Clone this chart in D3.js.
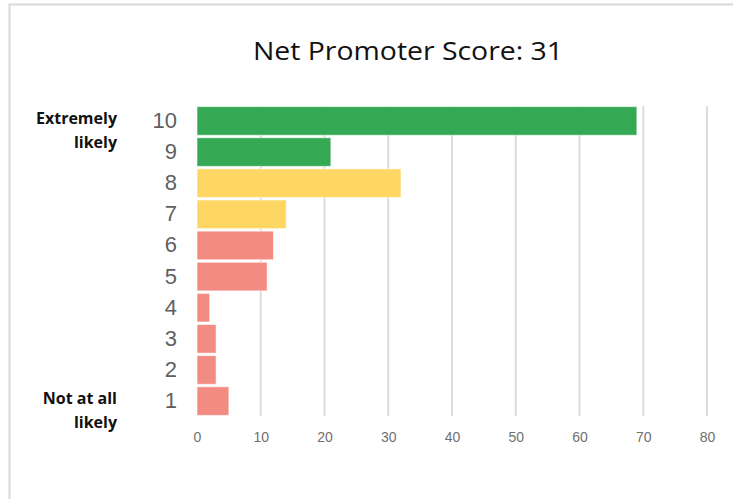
<!DOCTYPE html>
<html>
<head>
<meta charset="utf-8">
<script src="https://cdn.jsdelivr.net/npm/d3@7"></script>
<style>
  body { margin: 0; background: #fff; }
  svg { display: block; }
</style>
</head>
<body>
<div id="chart"></div>
<script>
var scores = ['10', '9', '8', '7', '6', '5', '4', '3', '2', '1'];
var counts = [69, 21, 32, 14, 12, 11, 2, 3, 3, 5];
var groups = ['promoter', 'promoter', 'passive', 'passive', 'detractor', 'detractor', 'detractor', 'detractor', 'detractor', 'detractor'];
var xTicks = [0, 10, 20, 30, 40, 50, 60, 70, 80];
var title = 'Net Promoter Score: 31';
var topLabel = ['Extremely', 'likely'];
var bottomLabel = ['Not at all', 'likely'];

var colors = { promoter: '#34a853', passive: '#fdd663', detractor: '#f28b82' };

var width = 733, height = 499;
var plot = { left: 197, right: 707, top: 106, bottom: 416 };

var data = scores.map(function(s, i) {
  return { score: s, count: counts[i], group: groups[i] };
});

var svg = d3.select('#chart').append('svg')
  .attr('width', width)
  .attr('height', height);

// frame
svg.append('path')
  .attr('d', 'M9.5,' + height + 'V4.5H' + width)
  .attr('fill', 'none')
  .attr('stroke', '#d9d9d9')
  .attr('stroke-width', 2);

var x = d3.scaleLinear().domain([0, 80]).range([plot.left, plot.right]);
var y = d3.scaleBand().domain(scores).range([plot.top, plot.bottom]).paddingInner(0.08).paddingOuter(0.02);

// grid
svg.selectAll('.grid').data(xTicks.slice(1)).enter()
  .append('line')
  .attr('x1', function(d) { return x(d); })
  .attr('x2', function(d) { return x(d); })
  .attr('y1', plot.top)
  .attr('y2', plot.bottom)
  .attr('stroke', '#dcdcdc')
  .attr('stroke-width', 2);

svg.selectAll('.bar').data(data).enter()
  .append('rect')
  .attr('x', x(0))
  .attr('y', function(d) { return y(d.score); })
  .attr('width', function(d) { return x(d.count) - x(0); })
  .attr('height', y.bandwidth())
  .attr('fill', function(d) { return colors[d.group]; })
  .attr('stroke', '#fff')
  .attr('stroke-opacity', 0.6)
  .attr('stroke-width', 1);

// y axis labels
var yaxis = d3.axisLeft(y).tickSize(0).tickPadding(20);
var yg = svg.append('g')
  .attr('transform', 'translate(' + plot.left + ',0)')
  .call(yaxis);
yg.select('.domain').remove();
yg.selectAll('text')
  .attr('font-family', 'Liberation Sans, Arial, sans-serif')
  .attr('font-size', 22)
  .attr('fill', '#5f5f5f');

// x axis labels
var xaxis = d3.axisBottom(x).tickValues(xTicks).tickSize(0).tickPadding(16);
var xg = svg.append('g')
  .attr('transform', 'translate(0,' + plot.bottom + ')')
  .call(xaxis);
xg.select('.domain').remove();
xg.selectAll('text')
  .attr('font-family', 'Liberation Sans, Arial, sans-serif')
  .attr('font-size', 14)
  .attr('fill', '#707070');

// title
svg.append('text')
  .attr('x', 408)
  .attr('y', 60)
  .attr('text-anchor', 'middle')
  .attr('font-family', 'Open Sans, sans-serif')
  .attr('font-size', 26)
  .attr('textLength', 310)
  .attr('lengthAdjust', 'spacingAndGlyphs')
  .attr('fill', '#111')
  .text(title);

var sideLabel = function(lines, y0) {
  svg.append('text')
    .attr('text-anchor', 'end')
    .attr('font-family', 'Open Sans, sans-serif')
    .attr('font-weight', 'bold')
    .attr('font-size', 16)
    .attr('fill', '#111')
    .selectAll('tspan').data(lines).enter()
    .append('tspan')
    .attr('x', 117)
    .attr('y', function(d, i) { return y0 + i * 24; })
    .text(function(d) { return d; });
};
sideLabel(topLabel, 124);
sideLabel(bottomLabel, 404);
</script>
</body>
</html>
